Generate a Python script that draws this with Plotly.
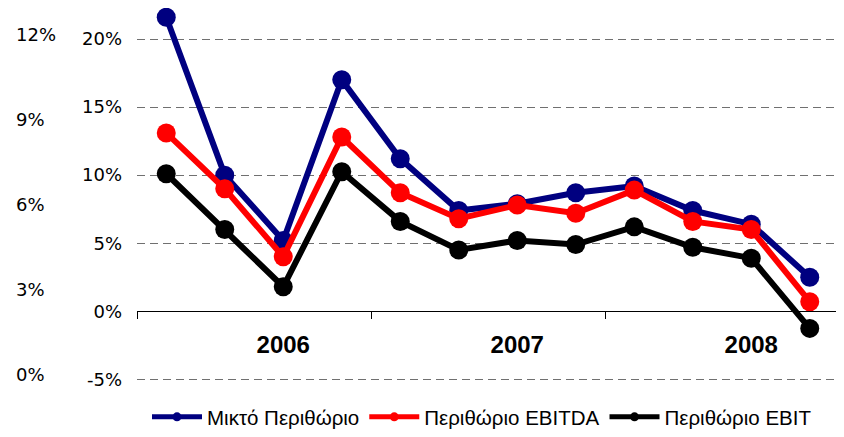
import plotly.graph_objects as go

quarters = list(range(12))
years = ["2006", "2007", "2008"]
year_pos = [2, 6, 10]
mikto = [21.6, 10.0, 5.2, 17.0, 11.2, 7.4, 7.9, 8.7, 9.2, 7.4, 6.4, 2.5]
ebitda = [13.1, 9.0, 4.0, 12.8, 8.7, 6.8, 7.8, 7.2, 8.9, 6.6, 6.0, 0.7]
ebit = [10.1, 6.0, 1.8, 10.25, 6.6, 4.5, 5.2, 4.9, 6.2, 4.7, 3.9, -1.26]
names = ["Μικτό Περιθώριο", "Περιθώριο EBITDA", "Περιθώριο EBIT"]
colors = ["#000080", "#FF0000", "#000000"]
main_ticks = [-5, 0, 5, 10, 15, 20]
ghost_ticks = [0, 3, 6, 9, 12]

# page has an 8px body margin, so the figure is sized to the remaining area
W, H = 836, 429
ydom = [37 / H, 1.0]
yr = [-6.52, 22.278]
y2r = [-0.882, 12.953]
xpos = ydom[0] + (0 - yr[0]) / (yr[1] - yr[0]) * (ydom[1] - ydom[0])

fig = go.Figure()
for vals, nm, c in zip([mikto, ebitda, ebit], names, colors):
    fig.add_trace(go.Scatter(
        x=quarters, y=vals, mode="lines+markers", name=nm, showlegend=False,
        line=dict(color=c, width=6), marker=dict(color=c, size=19),
        cliponaxis=False, hoverinfo="skip"))
for nm, c in zip(names, colors):
    fig.add_trace(go.Scatter(
        x=[None], y=[None], mode="lines+markers", name=nm,
        line=dict(color=c, width=5), marker=dict(color=c, size=9)))
# empty trace so the secondary (cropped) axis gets drawn
fig.add_trace(go.Scatter(x=[None], y=[None], yaxis="y2", showlegend=False,
                         mode="markers", hoverinfo="skip"))

fig.update_layout(
    width=W, height=H,
    margin=dict(l=0, r=0, t=0, b=0, autoexpand=False),
    paper_bgcolor="white", plot_bgcolor="white",
    font=dict(family="DejaVu Sans", size=18, color="black"),
    xaxis=dict(
        domain=[129 / W, 831 / W], range=[-0.5, 11.5],
        anchor="free", position=xpos, automargin=False,
        tickmode="array", tickvals=year_pos, ticktext=years,
        ticks="", showgrid=False, zeroline=False,
        showline=True, linecolor="black", linewidth=1,
        tickfont=dict(family="Liberation Sans", size=24, weight="bold"),
        ticklabelstandoff=12,
        minor=dict(tickmode="array", tickvals=[-0.5, 3.5, 7.5, 11.5],
                   ticks="outside", ticklen=7, tickcolor="black", tickwidth=1,
                   showgrid=False),
    ),
    yaxis=dict(
        domain=ydom, range=yr, automargin=False,
        tickmode="array", tickvals=main_ticks,
        ticktext=[f"{v}%" for v in main_ticks],
        showgrid=True, gridcolor="#707070", gridwidth=1.3, griddash="8px,5px",
        zeroline=False, showline=False, ticks="", ticklabelstandoff=14,
    ),
    yaxis2=dict(
        domain=ydom, range=y2r, overlaying="y", side="right",
        anchor="free", position=0, automargin=False,
        tickmode="array", tickvals=ghost_ticks,
        ticktext=[f"{v}%" for v in ghost_ticks],
        showgrid=False, zeroline=False, showline=False,
        ticks="", ticklabelstandoff=7,
    ),
    legend=dict(
        orientation="h", x=139 / W, xanchor="left", y=(H - 409) / H, yanchor="middle",
        font=dict(family="Liberation Sans", size=20.5), itemwidth=50,
        bgcolor="rgba(0,0,0,0)",
    ),
    showlegend=True,
)

fig.write_html("out.html")
